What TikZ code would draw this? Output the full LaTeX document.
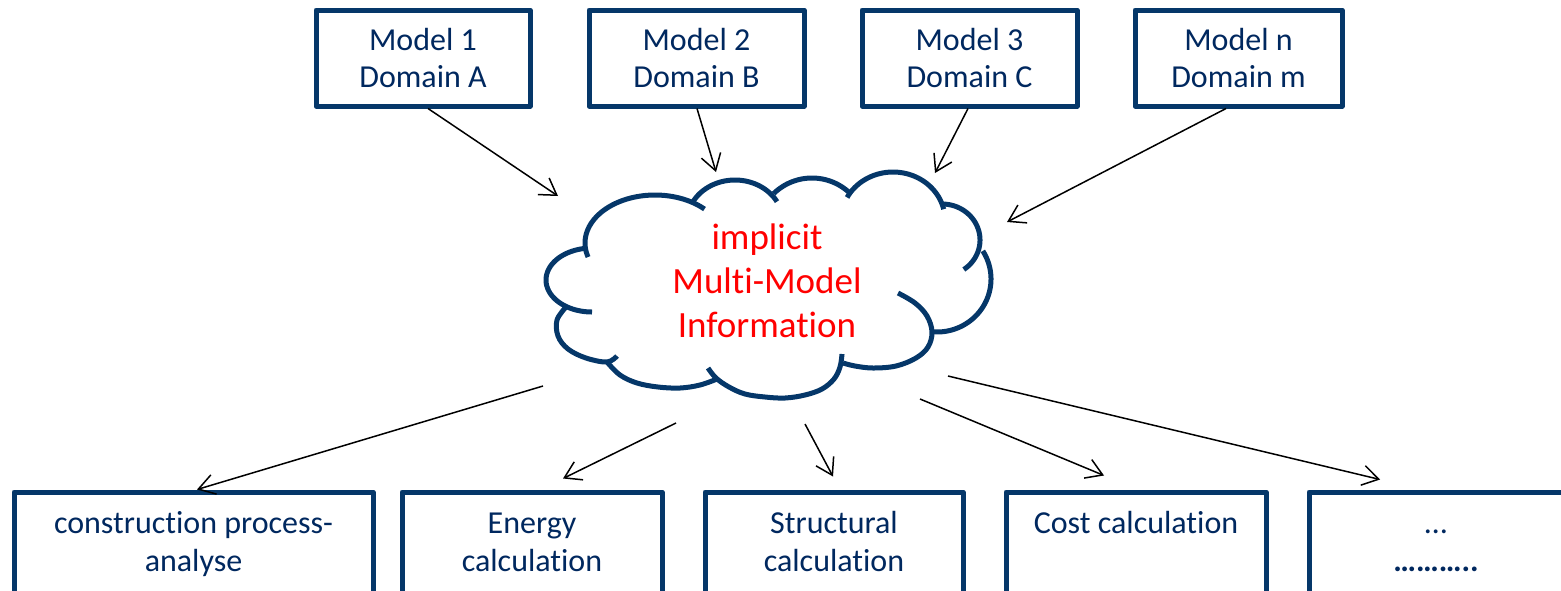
\documentclass[tikz,border=0pt]{standalone}
\usepackage{fontspec}
\setmainfont{Carlito}[Ligatures={NoCommon}]
\usetikzlibrary{arrows.meta}
\definecolor{navy}{RGB}{5,55,105}
\definecolor{navytext}{RGB}{0,40,95}
\begin{document}
\begin{tikzpicture}[x=0.5pt,y=-0.5pt,
  box/.style={draw=navy, line width=2.5pt, fill=white, line join=round, inner sep=0pt},
  toptxt/.style={text=navytext, align=center, inner sep=0pt, font=\fontsize{16}{18.5}\selectfont},
  bottxt/.style={text=navytext, align=center, inner sep=0pt, anchor=north, font=\fontsize{16}{19}\selectfont},
  cloudline/.style={draw=navy, line width=2.5pt, line join=round},
  arr/.style={draw=black, line width=0.75pt, -{Straight Barb[length=8pt,width=10pt]}}]
\useasboundingbox (0,0) rectangle (1561,590);
\clip (0,0) rectangle (1561,590);

% coordinates near the cloud
\coordinate (c1) at (558,196);
\coordinate (c2) at (716,172);
\coordinate (c3) at (935,173);
\coordinate (c4) at (1007,222);
\coordinate (s5) at (543,386);
\coordinate (s6) at (676,423);
\coordinate (s7) at (805,424);
\coordinate (s8) at (920,399);
\coordinate (s9) at (948,376);

% top boxes
\node[box, minimum width=107pt, minimum height=48pt] (m1) at (423,58) {};
\node[box, minimum width=107.5pt, minimum height=48pt] (m2) at (696.5,58) {};
\node[box, minimum width=107.5pt, minimum height=48pt] (m3) at (969.5,58) {};
\node[box, minimum width=103.5pt, minimum height=48pt] (m4) at (1238.5,58) {};
\node[toptxt] (tm1) at (m1) {Model 1\\Domain A};
\node[toptxt] (tm2) at (m2) {Model 2\\Domain B};
\node[toptxt] (tm3) at (m3) {Model 3\\Domain C};
\node[toptxt] (tm4) at (m4) {Model n\\Domain m};

% bottom boxes
\node[box, minimum width=179.5pt, minimum height=79pt] (b1) at (193.5,571) {};
\node[box, minimum width=130pt, minimum height=79pt] (b2) at (532,571) {};
\node[box, minimum width=129pt, minimum height=79pt] (b3) at (834,571) {};
\node[box, minimum width=130pt, minimum height=79pt] (b4) at (1136,571) {};
\node[box, minimum width=127pt, minimum height=79pt] (b5) at (1436,571) {};
\node[bottxt] (tb1) at (193.5,506.5) {\strut construction process-\\analyse};
\node[bottxt] (tb2) at (532,506.5) {\strut Energy\\calculation};
\node[bottxt] (tb3) at (834,506.5) {\strut Structural\\calculation};
\node[bottxt] (tb4) at (1136,506.5) {\strut Cost calculation};
\node[bottxt] (tb5) at (1436,506.5) {\strut …\\\textbf{………..}};

% arrows into the cloud
\draw[arr] ([xshift=2.5pt]m1.south) -- (c1);
\draw[arr] ([xshift=0.25pt]m2.south) -- (c2);
\draw[arr] ([xshift=-0.75pt]m3.south) -- (c3);
\draw[arr] ([xshift=-6.25pt]m4.south) -- (c4);
% arrows out of the cloud
\draw[arr] (s5) -- ([xshift=1.75pt,yshift=0pt]b1.north);
\draw[arr] (s6) -- ([xshift=15.5pt,yshift=5.5pt]b2.north);
\draw[arr] (s7) -- ([xshift=-0.5pt,yshift=6.5pt]b3.north);
\draw[arr] (s8) -- ([xshift=-16pt,yshift=7pt]b4.north);
\draw[arr] (s9) -- ([xshift=-28pt,yshift=5pt]b5.north);

% cloud (bumps as elliptic arcs, y axis points down)
\draw[cloudline] plot[domain=163:315, samples=50] ({655+70*cos(\x)},{243+48*sin(\x)});
\draw[cloudline] plot[domain=207:331, samples=40] ({735+48*cos(\x)},{222+42*sin(\x)});
\draw[cloudline] plot[domain=226:315, samples=40] ({812+55*cos(\x)},{233+55*sin(\x)});
\draw[cloudline] plot[domain=208:347, samples=50] ({893+52*cos(\x)},{220+48*sin(\x)});
\draw[cloudline] plot[domain=268:415, samples=50] ({942+38*cos(\x)},{240+36*sin(\x)});
\draw[cloudline] plot[domain=328:454, samples=50] ({937+54*cos(\x)},{279+53*sin(\x)});
\draw[cloudline] plot[smooth, tension=0.6] coordinates {(898,293) (915,303) (927,316) (932,332) (928,347) (916,358) (896,366) (873,368) (855,366) (843,363)};
\draw[cloudline] plot[smooth, tension=0.6] coordinates {(842,354) (840,367) (834,379) (822,389) (805,395) (785,398) (765,397) (745,394) (729,387) (716,378) (708,368)};
\draw[cloudline] plot[smooth, tension=0.6] coordinates {(717,379) (700,385) (680,388) (658,387) (637,383) (620,375) (607,362)};
\draw[cloudline] plot[smooth, tension=0.6] coordinates {(566,307) (557,320) (558,336) (568,349) (586,358) (607,362) (617,356)};
\draw[cloudline] plot[domain=90:261, samples=50] ({592+46*cos(\x)},{280+32*sin(\x)});
\node[text=red, align=center, inner sep=0pt, font=\fontsize{18.5}{22}\selectfont] (cloudtxt) at (767,281) {implicit\\Multi-Model\\Information};
\end{tikzpicture}
\end{document}
